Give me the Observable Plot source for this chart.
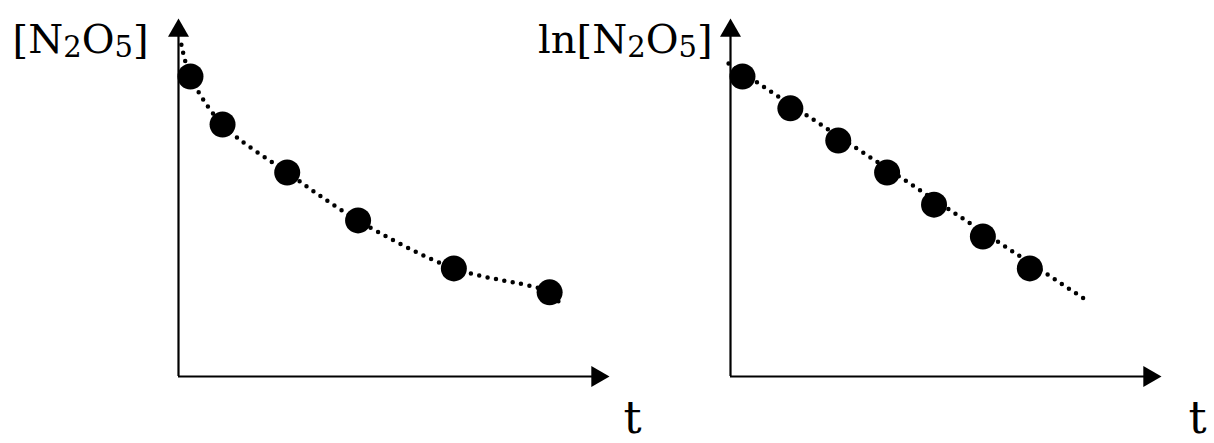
<!DOCTYPE html>
<html>
<head>
<meta charset="utf-8">
<script src="https://cdn.jsdelivr.net/npm/d3@7"></script>
<script src="https://cdn.jsdelivr.net/npm/@observablehq/plot@0.6"></script>
<style>
  html, body { margin: 0; padding: 0; background: white; overflow: hidden; }
  #wrap { position: relative; width: 1214px; height: 443px; }
  .panel { position: absolute; top: 0; }
</style>
</head>
<body>
<div id="wrap">
  <div class="panel" id="left" style="left:0px"></div>
  <div class="panel" id="right" style="left:552px"></div>
</div>
<script>
// ---- data ----
const leftLabel = "[N₂O₅]";
const rightLabel = "ln[N₂O₅]";
const timeLabel = "t";

// Left panel: concentration vs time
const leftT = [0.25, 0.92, 2.27, 3.75, 5.75, 7.75];
const leftC = [8.38, 7.04, 5.70, 4.36, 3.02, 2.35];
// dotted fitted curve
const leftCurveT = [0.06, 0.25, 0.92, 2.27, 3.75, 5.75, 7.75, 7.96];
const leftCurveC = [9.27, 8.38, 7.04, 5.70, 4.36, 3.02, 2.35, 2.04];

// Right panel: ln concentration vs time
const rightT = [0.25, 1.25, 2.25, 3.27, 4.25, 5.27, 6.25];
const rightLnC = [8.38, 7.49, 6.59, 5.70, 4.80, 3.91, 3.02];
const rightLineT = [-0.04, 7.5];
const rightLineLnC = [8.74, 2.07];

// axis extents (data units)
const tMax = 9;
const yMax = 10;

const zip = (xs, ys) => xs.map((x, i) => ({x, y: ys[i]}));
const subs = {"₂": "2", "₅": "5"};

// render subscript characters as real lowered, smaller digits (still text)
function styleSubscripts(svg) {
  d3.select(svg).selectAll("text").each(function () {
    const el = d3.select(this);
    const s = el.text();
    if (!/[₂₅]/.test(s)) return;
    el.text(null);
    for (const ch of s) {
      if (subs[ch]) {
        el.append("tspan").attr("font-size", 29).attr("baseline-shift", "-4").text(subs[ch]);
      } else {
        el.append("tspan").text(ch);
      }
    }
  });
  return svg;
}

function panel(points, curvePts, curveType, label, labelDx, tDx) {
  const headR = 7.8;
  const pxPerX = 431 / tMax;
  const pxPerY = 358 / yMax;
  const headOff = 12.1;
  const font = "DejaVu Serif";
  const svg = Plot.plot({
    width: 662,
    height: 443,
    marginLeft: 178,
    marginRight: 53,
    marginTop: 18,
    marginBottom: 67,
    x: {domain: [0, tMax], axis: null},
    y: {domain: [0, yMax], axis: null},
    style: {background: "transparent", overflow: "visible"},
    marks: [
      Plot.ruleX([0], {y1: 0, y2: yMax - headOff / pxPerY, stroke: "black", strokeWidth: 2.2}),
      Plot.ruleY([0], {x1: 0, x2: tMax - headOff / pxPerX, stroke: "black", strokeWidth: 2.2}),
      Plot.dot([{x: 0, y: yMax - headOff / pxPerY}], {x: "x", y: "y", symbol: "triangle", r: headR, fill: "black", stroke: null}),
      Plot.dot([{x: tMax - headOff / pxPerX, y: 0}], {x: "x", y: "y", symbol: "triangle", r: headR, fill: "black", stroke: null, rotate: 90}),
      Plot.line(curvePts, {x: "x", y: "y", curve: curveType, stroke: "black", strokeWidth: 4.5, strokeDasharray: "0 8.5", strokeLinecap: "round"}),
      Plot.dot(points, {x: "x", y: "y", r: 13, fill: "black", stroke: null}),
      Plot.text([label], {text: d => d, frameAnchor: "top-left", dx: labelDx, dy: 34, textAnchor: "end", lineAnchor: "bottom", fontSize: 40, fontFamily: font, fill: "black"}),
      Plot.text([timeLabel], {text: d => d, frameAnchor: "bottom-right", dx: tDx, dy: 56, textAnchor: "middle", lineAnchor: "bottom", fontSize: 45, fontFamily: font, fill: "black"})
    ]
  });
  return styleSubscripts(svg);
}

document.getElementById("left").append(
  panel(zip(leftT, leftC), zip(leftCurveT, leftCurveC), "catmull-rom", leftLabel, -30, 23)
);
document.getElementById("right").append(
  panel(zip(rightT, rightLnC), zip(rightLineT, rightLineLnC), "linear", rightLabel, -18, 36)
);
</script>
</body>
</html>
